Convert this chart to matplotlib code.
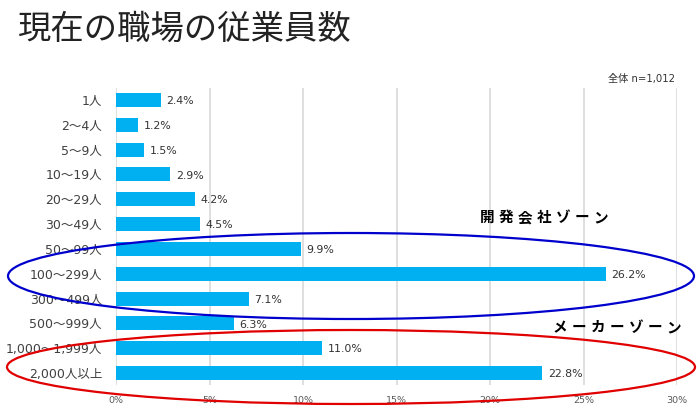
import matplotlib
matplotlib.use("Agg")
import matplotlib.pyplot as plt
from matplotlib.patches import Ellipse

plt.rcParams['font.family'] = ['DejaVu Sans', 'Noto Sans CJK JP']

categories = ["1人", "2～4人", "5～9人", "10～19人", "20～29人", "30～49人",
              "50～99人", "100～299人", "300～499人", "500～999人",
              "1,000～1,999人", "2,000人以上"]
values = [2.4, 1.2, 1.5, 2.9, 4.2, 4.5, 9.9, 26.2, 7.1, 6.3, 11.0, 22.8]
xticks = [0, 5, 10, 15, 20, 25, 30]

W, H = 697, 408
fig = plt.figure(figsize=(W / 100, H / 100), dpi=100)
ax = fig.add_axes([116 / W, 1 - 385 / H, (677 - 116) / W, (385 - 88) / H])

ypos = list(range(len(categories)))
ax.barh(ypos, values, height=0.56, color="#00b0f0", zorder=2)
for y, v in zip(ypos, values):
    ax.text(v + 0.3, y + 0.05, f"{v:.1f}%", va="center", ha="left", fontsize=7.9,
            color="#333333")

ax.set_xlim(0, 30)
ax.set_ylim(11.48, -0.48)
ax.set_yticks(ypos)
ax.set_yticklabels(categories, fontsize=9, color="#404040")
ax.set_xticks(xticks)
ax.set_xticklabels([f"{t}%" for t in xticks], fontsize=6.8, color="#595959")
ax.tick_params(length=0)
ax.tick_params(axis="y", pad=10)
ax.tick_params(axis="x", pad=8)
ax.grid(axis="x", color="#d9d9d9", linewidth=1.2, zorder=0)
for s in ax.spines.values():
    s.set_visible(False)

fig.text(18 / W, 1 - 29 / H, "現在の職場の従業員数", fontsize=24, color="#222222",
         va="center", ha="left", family="Noto Sans CJK JP")
fig.text(675 / W, 1 - 79 / H, "全体 n=1,012", fontsize=7.3, color="#333333",
         va="center", ha="right")

# zone ellipses
e1 = Ellipse((351 / W, 1 - 276 / H), 686 / W, 86 / H, transform=fig.transFigure,
             fill=False, edgecolor="#0000cc", linewidth=1.6, zorder=5)
e2 = Ellipse((351 / W, 1 - 367 / H), 688 / W, 74 / H, transform=fig.transFigure,
             fill=False, edgecolor="#e00000", linewidth=1.6, zorder=5)
fig.add_artist(e1)
fig.add_artist(e2)

# zone labels, spaced out one character at a time
for label, x0, y0 in [("開発会社ゾーン", 480, 217), ("メーカーゾーン", 553, 327)]:
    for i, ch in enumerate(label):
        fig.text((x0 + 7 + i * 19) / W, 1 - y0 / H, ch, fontsize=10.5,
                 color="black", va="center", ha="center", fontweight="bold",
                 family="Noto Sans CJK JP")

fig.savefig("out.png", dpi=100)
